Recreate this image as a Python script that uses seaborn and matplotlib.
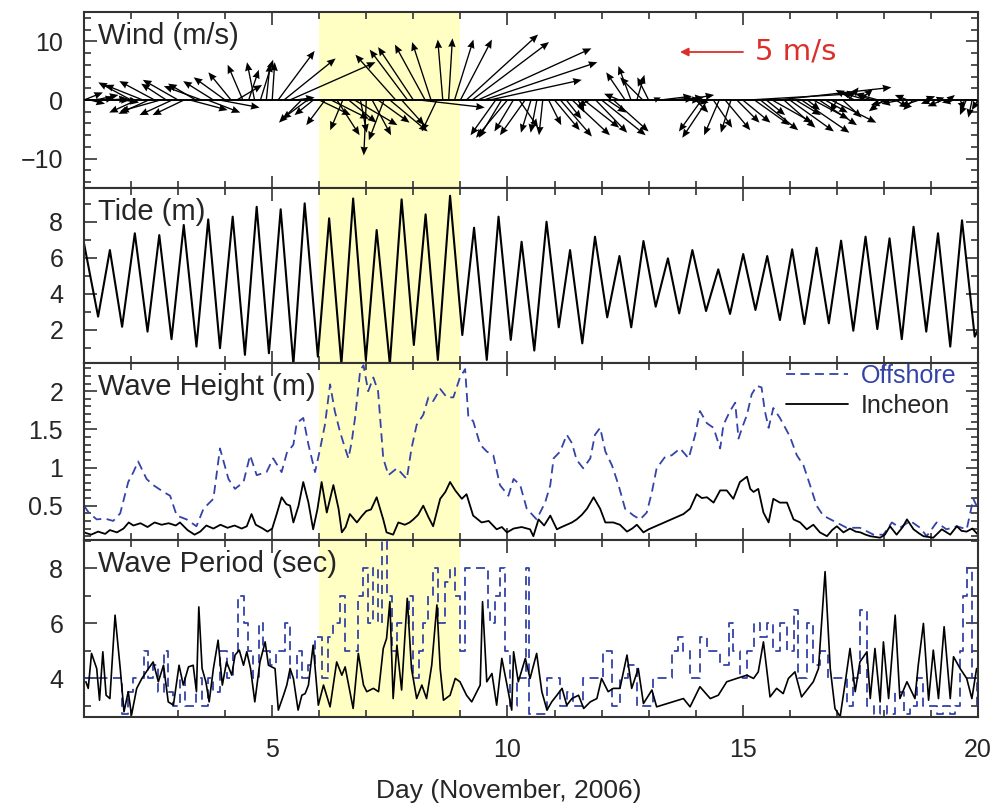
import numpy as np
import matplotlib
matplotlib.use("Agg")
import matplotlib.pyplot as plt
from matplotlib.ticker import MultipleLocator, FuncFormatter
import seaborn as sns

sns.set_style("ticks")
plt.rcParams["font.family"] = ["Liberation Sans", "DejaVu Sans"]

# ---- wind, 3-hourly vectors (m/s) ----
wind_day = np.arange(1.0, 20.001, 0.125)
wind_u = [1.5, 1.2, 1.8, 1.0, 1.6, 1.3, 1.5, 1.1,
          -2.6, -2.2, -3.0, -2.4, -2.8, -3.2, -2.0, -2.6,
          -2.8, -2.5, 3.0, -2.2, -3.0, 2.6, -2.4, 3.2,
          -2.5, -1.8, 2.0, -1.2, 0.8, -0.6, 1.0, 0.3,
          0.2, 2.9, 4.1, 6.8, 1.5, -1.8, -2.0, -1.5,
          2.5, -1.5, 3.0, 1.8, -1.0, 2.2, 3.4, 0.5,
          -0.2, 1.5, 2.5, -1.2, 3.0, -3.2, 1.8, -3.0,
          -2.8, 5.2, -2.4, -1.5, -1.2, -0.4, 0.3, 1.5,
          2.5, 5.7, 6.1, 9.0, 9.0, 7.3, -2.0, -1.8,
          -2.5, -1.5, 1.5, -2.0, -0.8, -0.5, -0.3, 1.0,
          2.0, 2.5, 1.2, 3.0, 0.5, 2.8, -1.0, 2.5,
          3.5, 1.5, 2.8, -1.2, -1.5, -1.0, 0.6, -1.8,
          -0.9, 0.5, 2.5, 2.2, 2.5, 1.8, 2.4, 1.5,
          1.0, -1.8, -2.0, 1.5, -1.2, 2.0, -0.8, 1.8,
          2.2, 8.5, 2.8, 3.0, 1.5, 3.2, 9.0, 2.5,
          3.5, 2.0, 3.8, 1.0, 2.8, 3.0, 1.8, 3.6,
          -0.5, 1.5, 0.8, -1.5, 1.0, -2.0, -1.2, -1.8,
          -1.2, -1.5, 1.0, -1.6, -1.0, -0.8, -1.5, 0.8,
          -0.8, 0.6, -1.2, 0.5, -1.0, 0.3, -0.5, -0.3,
          -0.5]
wind_v = [0.6, -0.3, 0.4, 0.2, 0.1, 0.0, -0.1, -0.2,
          1.4, -1.0, 1.2, -1.1, 1.5, -0.9, 1.3, -1.2,
          1.6, -1.2, -0.8, 1.3, 1.1, -1.0, 1.5, -0.6,
          1.8, 2.2, 1.2, 2.8, 2.4, 3.0, 3.2, 2.9,
          3.0, 3.9, 3.3, 3.0, 0.2, -1.8, -1.5, -1.2,
          -1.2, -2.0, -1.5, -2.8, -2.4, -1.8, -2.0, -2.6,
          -4.4, -2.8, -1.8, -3.2, -2.5, 3.6, -2.0, 4.0,
          4.2, -0.6, 4.4, 4.6, -2.5, 4.8, 4.9, 4.8,
          4.8, 5.2, 4.6, 4.1, 3.0, 1.6, -2.8, -3.0,
          -3.0, -2.5, -2.2, -2.8, -2.6, -2.6, -2.8, -2.0,
          -2.4, -2.9, -1.5, -2.8, -1.0, -2.2, -0.5, -2.6,
          -2.8, -1.0, -2.5, 0.5, 2.2, 2.7, 2.0, 1.8,
          1.8, 0.2, 0.3, 0.1, 0.2, 0.0, 0.4, -0.2,
          -1.0, -2.5, -3.0, -2.2, -2.8, -2.4, -2.6, -1.8,
          -1.8, 0.5, -2.0, -2.4, -1.2, -1.8, 1.0, -2.2,
          -2.5, -1.2, -2.6, -0.8, -1.5, -2.0, -1.0, -1.8,
          -1.0, -1.4, 1.0, 0.8, 0.9, 0.6, 0.4, 0.5,
          -0.9, -0.4, -0.6, -0.3, 0.4, -0.8, -0.5, 0.3,
          -0.3, 0.2, -0.5, 0.4, -0.2, -0.8, -1.2, -1.4,
          -0.8]

# ---- tide, highs and lows (m) ----
tide_day = [1.0, 1.30, 1.55, 1.81, 2.08, 2.35, 2.60, 2.86, 3.12, 3.39,
            3.64, 3.89, 4.16, 4.42, 4.67, 4.93, 5.18, 5.45, 5.69, 5.97,
            6.21, 6.47, 6.72, 6.99, 7.22, 7.50, 7.75, 8.01, 8.26, 8.52,
            8.78, 9.04, 9.29, 9.56, 9.81, 10.07, 10.30, 10.57, 10.83, 11.09,
            11.33, 11.59, 11.86, 12.12, 12.38, 12.63, 12.89, 13.15, 13.41, 13.65,
            13.93, 14.22, 14.48, 14.73, 15.01, 15.27, 15.52, 15.79, 16.05, 16.31,
            16.57, 16.83, 17.09, 17.35, 17.61, 17.86, 18.12, 18.38, 18.63, 18.90,
            19.15, 19.41, 19.66, 19.93, 20.0]
tide_m = [6.8, 2.74, 6.43, 2.18, 7.36, 1.91, 7.26, 1.49, 7.82, 1.08,
          8.13, 0.99, 8.28, 0.62, 8.83, 0.71, 8.69, 0.1, 9.02, 0.52,
          8.19, 0.1, 9.29, 0.34, 7.54, 0.1, 9.24, 1.17, 8.41, 0.34,
          9.44, 1.72, 7.67, 0.34, 8.28, 1.45, 6.89, 0.86, 8.0, 2.15,
          6.43, 1.26, 7.17, 2.70, 6.10, 2.15, 6.93, 3.29, 5.97, 2.92,
          6.43, 3.05, 5.36, 2.89, 6.21, 3.11, 6.10, 2.55, 6.47, 2.33,
          6.56, 2.37, 6.95, 1.96, 7.17, 2.05, 7.08, 1.49, 7.72, 1.91,
          7.36, 1.08, 8.08, 1.63, 2.0]

# ---- wave height (m) ----
hs_in_day = [1.0, 1.15, 1.3, 1.45, 1.55, 1.7, 1.84, 1.95, 2.05, 2.2,
             2.35, 2.5, 2.65, 2.8, 2.95, 3.04, 3.2, 3.35, 3.47, 3.6,
             3.75, 3.9, 4.05, 4.2, 4.35, 4.46, 4.56, 4.65, 4.8, 4.9,
             5.0, 5.1, 5.2, 5.3, 5.38, 5.45, 5.56, 5.66, 5.77, 5.87,
             5.96, 6.05, 6.16, 6.3, 6.41, 6.48, 6.56, 6.65, 6.8, 6.9,
             7.0, 7.1, 7.22, 7.36, 7.43, 7.57, 7.68, 7.82, 7.92, 8.0,
             8.1, 8.21, 8.32, 8.42, 8.57, 8.68, 8.78, 8.89, 9.03, 9.13,
             9.27, 9.45, 9.6, 9.77, 9.88, 9.99, 10.13, 10.3, 10.48, 10.55,
             10.66, 10.78, 10.91, 11.05, 11.15, 11.26, 11.37, 11.47, 11.58, 11.69,
             11.83, 11.97, 12.08, 12.25, 12.39, 12.54, 12.65, 12.75, 12.89, 13.0,
             13.74, 13.88, 14.02, 14.13, 14.24, 14.38, 14.52, 14.66, 14.8, 14.94,
             15.09, 15.16, 15.23, 15.33, 15.44, 15.55, 15.65, 15.79, 15.94, 16.08,
             16.22, 16.36, 16.5, 16.64, 16.79, 16.9, 17.0, 17.14, 17.28, 17.4,
             17.5, 17.61, 17.71, 17.92, 18.02, 18.13, 18.27, 18.4, 18.49, 18.63,
             18.74, 18.84, 19.05, 19.15, 19.23, 19.41, 19.55, 19.65, 19.76, 19.88,
             20.0]
hs_incheon = [0.15, 0.12, 0.16, 0.13, 0.18, 0.15, 0.2, 0.28, 0.24, 0.27,
              0.22, 0.28, 0.25, 0.27, 0.24, 0.28, 0.18, 0.12, 0.16, 0.24,
              0.2, 0.25, 0.21, 0.24, 0.2, 0.23, 0.39, 0.25, 0.2, 0.16,
              0.2, 0.4, 0.61, 0.52, 0.5, 0.28, 0.5, 0.81, 0.54, 0.19,
              0.45, 0.81, 0.41, 0.77, 0.46, 0.15, 0.22, 0.39, 0.28, 0.36,
              0.43, 0.45, 0.61, 0.32, 0.15, 0.12, 0.28, 0.25, 0.28, 0.32,
              0.38, 0.5, 0.35, 0.23, 0.59, 0.68, 0.81, 0.7, 0.59, 0.65,
              0.37, 0.28, 0.3, 0.19, 0.22, 0.15, 0.2, 0.22, 0.19, 0.1,
              0.32, 0.24, 0.37, 0.19, 0.22, 0.25, 0.28, 0.32, 0.38, 0.46,
              0.61, 0.46, 0.28, 0.28, 0.25, 0.16, 0.2, 0.25, 0.15, 0.19,
              0.39, 0.46, 0.65, 0.6, 0.61, 0.54, 0.7, 0.7, 0.59, 0.81,
              0.88, 0.72, 0.68, 0.72, 0.41, 0.28, 0.59, 0.54, 0.54, 0.32,
              0.28, 0.19, 0.25, 0.15, 0.1, 0.18, 0.23, 0.15, 0.2, 0.16,
              0.15, 0.12, 0.1, 0.08, 0.12, 0.23, 0.12, 0.22, 0.32, 0.19,
              0.14, 0.1, 0.08, 0.14, 0.19, 0.12, 0.23, 0.17, 0.16, 0.2,
              0.12]
hs_off_day = [1.0, 1.1, 1.27, 1.45, 1.62, 1.77, 1.94, 2.05, 2.15, 2.33,
              2.47, 2.69, 2.83, 2.97, 3.18, 3.39, 3.54, 3.75, 3.89, 4.07,
              4.21, 4.39, 4.53, 4.67, 4.88, 5.02, 5.2, 5.31, 5.45, 5.52,
              5.66, 5.77, 5.91, 6.02, 6.12, 6.23, 6.33, 6.44, 6.55, 6.62,
              6.69, 6.76, 6.87, 6.94, 7.04, 7.15, 7.25, 7.36, 7.47, 7.65,
              7.86, 7.96, 8.07, 8.21, 8.32, 8.42, 8.57, 8.71, 8.85, 8.99,
              9.1, 9.17, 9.27, 9.42, 9.56, 9.7, 9.84, 10.02, 10.13, 10.27,
              10.41, 10.62, 10.8, 10.91, 10.98, 11.12, 11.26, 11.37, 11.47, 11.61,
              11.76, 11.86, 11.97, 12.08, 12.22, 12.36, 12.5, 12.68, 12.82, 12.96,
              13.07, 13.17, 13.35, 13.49, 13.67, 13.85, 13.99, 14.09, 14.24, 14.38,
              14.52, 14.59, 14.73, 14.84, 14.91, 15.01, 15.09, 15.19, 15.3, 15.4,
              15.47, 15.55, 15.65, 15.79, 16.0, 16.15, 16.29, 16.43, 16.57, 16.71,
              16.93, 17.21, 17.49, 17.78, 17.99, 18.17, 18.34, 18.56, 18.77, 18.91,
              19.12, 19.33, 19.55, 19.76, 19.9, 20.0]
hs_offshore = [0.5, 0.41, 0.32, 0.33, 0.3, 0.4, 0.81, 0.94, 1.08, 0.85,
               0.77, 0.68, 0.63, 0.37, 0.32, 0.23, 0.46, 0.59, 1.25, 0.85,
               0.72, 0.81, 1.16, 0.9, 0.94, 1.12, 0.94, 1.19, 1.3, 1.58,
               1.65, 1.3, 0.94, 1.25, 1.56, 2.09, 1.74, 1.47, 1.25, 1.12,
               1.34, 1.65, 2.27, 2.34, 2.0, 2.18, 2.0, 1.12, 0.9, 0.99,
               0.85, 1.25, 1.56, 1.69, 1.92, 1.87, 2.03, 1.92, 1.92, 2.18,
               2.29, 1.65, 1.61, 1.3, 1.21, 1.16, 0.77, 0.63, 0.85, 0.77,
               0.46, 0.32, 0.54, 0.77, 1.12, 1.21, 1.43, 1.32, 1.1, 0.99,
               1.12, 1.43, 1.52, 1.21, 1.03, 0.77, 0.46, 0.37, 0.32, 0.41,
               0.68, 0.99, 1.14, 1.16, 1.25, 1.12, 1.43, 1.74, 1.58, 1.52,
               1.25, 1.56, 1.74, 1.85, 1.38, 1.56, 1.69, 1.96, 2.07, 2.05,
               1.74, 1.52, 1.78, 1.65, 1.41, 1.16, 1.03, 0.77, 0.5, 0.37,
               0.3, 0.21, 0.21, 0.12, 0.12, 0.28, 0.21, 0.3, 0.21, 0.1,
               0.28, 0.19, 0.23, 0.19, 0.59, 0.46]

# ---- wave period (sec) ----
tp_in_day = [1.04, 1.09, 1.16, 1.27, 1.33, 1.40, 1.47, 1.55, 1.66, 1.77,
             1.85, 1.94, 2.01, 2.12, 2.23, 2.37, 2.47, 2.58, 2.69, 2.79,
             2.90, 3.02, 3.11, 3.22, 3.32, 3.39, 3.44, 3.51, 3.59, 3.66,
             3.75, 3.85, 3.94, 4.03, 4.14, 4.21, 4.30, 4.39, 4.46, 4.54,
             4.63, 4.74, 4.85, 4.92, 4.99, 5.06, 5.13, 5.24, 5.31, 5.38,
             5.45, 5.55, 5.63, 5.70, 5.77, 5.87, 5.98, 6.09, 6.23, 6.37,
             6.48, 6.55, 6.65, 6.72, 6.83, 6.94, 7.01, 7.15, 7.26, 7.36,
             7.43, 7.50, 7.57, 7.65, 7.75, 7.87, 7.96, 8.07, 8.18, 8.28,
             8.39, 8.50, 8.57, 8.64, 8.78, 8.89, 8.99, 9.13, 9.24, 9.42,
             9.47, 9.56, 9.67, 9.77, 9.88, 9.99, 10.09, 10.13, 10.23, 10.38,
             10.48, 10.62, 10.73, 10.84, 10.94, 11.05, 11.16, 11.26, 11.37, 11.51,
             11.62, 11.76, 11.90, 12.0, 12.14, 12.25, 12.39, 12.54, 12.64, 12.78,
             12.89, 13.07, 13.17, 13.74, 13.88, 14.09, 14.31, 14.48, 14.66, 14.87,
             15.09, 15.23, 15.33, 15.44, 15.58, 15.72, 15.86, 15.97, 16.11, 16.25,
             16.39, 16.5, 16.61, 16.75, 16.86, 16.96, 17.07, 17.18, 17.28, 17.39,
             17.49, 17.64, 17.71, 17.81, 17.92, 17.99, 18.1, 18.24, 18.34, 18.49,
             18.66, 18.73, 18.84, 18.95, 19.05, 19.16, 19.28, 19.41, 19.48, 19.62,
             19.76, 19.87, 19.97]
tp_incheon = [3.88, 3.64, 4.91, 4.36, 3.21, 4.97, 3.39, 3.27, 6.3, 4.36,
              2.79, 3.52, 2.67, 3.64, 4.0, 4.36, 4.6, 3.88, 4.48, 3.15,
              3.03, 4.48, 3.76, 4.42, 4.48, 3.52, 6.6, 4.36, 3.88, 3.15,
              4.36, 5.39, 3.76, 4.6, 4.12, 4.85, 5.03, 4.48, 4.97, 4.36,
              3.15, 4.6, 5.33, 4.48, 4.42, 4.36, 2.85, 3.39, 3.76, 4.36,
              4.0, 2.85, 3.39, 3.45, 3.76, 5.21, 3.03, 3.76, 2.97, 4.6,
              4.12, 4.42, 3.52, 2.91, 4.91, 3.76, 3.52, 3.64, 3.52, 5.09,
              5.45, 6.79, 3.27, 5.21, 3.58, 6.91, 4.36, 3.27, 3.76, 3.27,
              4.48, 6.67, 4.36, 3.21, 3.39, 4.0, 3.88, 3.39, 3.15, 3.76,
              6.79, 3.88, 4.18, 3.03, 4.73, 3.76, 2.85, 4.97, 3.88, 4.73,
              4.0, 4.91, 3.52, 2.85, 3.15, 3.39, 3.64, 3.03, 3.27, 3.39,
              2.91, 3.15, 3.27, 4.0, 3.52, 3.64, 3.64, 4.85, 3.64, 4.36,
              3.09, 3.58, 2.97, 3.27, 2.97, 3.7, 3.27, 3.39, 3.88, 4.0,
              4.12, 4.0, 4.24, 5.33, 3.33, 3.64, 3.45, 4.0, 4.24, 3.33,
              3.64, 3.88, 4.36, 7.88, 4.36, 2.91, 2.61, 3.88, 5.09, 3.52,
              4.6, 4.97, 3.27, 5.09, 3.15, 5.33, 3.27, 6.3, 3.27, 3.88,
              3.27, 4.48, 6.0, 3.21, 5.03, 3.27, 5.88, 3.27, 4.79, 4.36,
              4.0, 3.27, 4.36]
tp_off_day = [1.0, 1.55, 1.62, 1.8, 1.94, 2.05, 2.19, 2.28, 2.37, 2.47,
              2.58, 2.69, 2.79, 2.9, 3.04, 3.15, 3.29, 3.39, 3.5, 3.64,
              3.75, 3.89, 4.03, 4.17, 4.28, 4.39, 4.49, 4.6, 4.71, 4.81,
              4.95, 5.09, 5.27, 5.38, 5.52, 5.63, 5.77, 5.91, 6.05, 6.19,
              6.3, 6.44, 6.55, 6.65, 6.83, 6.94, 7.04, 7.15, 7.25, 7.34,
              7.43, 7.54, 7.65, 7.79, 7.9, 8.0, 8.11, 8.21, 8.32, 8.42,
              8.53, 8.67, 8.78, 8.89, 8.99, 9.1, 9.27, 9.42, 9.59, 9.63,
              9.74, 9.84, 9.95, 10.06, 10.2, 10.39, 10.45, 10.66, 10.84, 10.98,
              11.12, 11.26, 11.4, 11.61, 11.83, 12.04, 12.22, 12.39, 12.57, 12.75,
              12.96, 13.09, 13.35, 13.49, 13.63, 13.74, 13.88, 13.99, 14.09, 14.24,
              14.38, 14.52, 14.7, 14.8, 14.94, 15.09, 15.23, 15.37, 15.51, 15.65,
              15.79, 15.94, 16.08, 16.18, 16.36, 16.5, 16.64, 16.82, 17.07, 17.21,
              17.35, 17.49, 17.64, 17.78, 17.92, 18.06, 18.24, 18.42, 18.56, 18.7,
              18.84, 18.98, 19.12, 19.26, 19.41, 19.51, 19.62, 19.69, 19.76, 19.87,
              19.97]
tp_offshore = [4.0, 4.0, 4.0, 2.7, 3.5, 4.0, 4.0, 5.0, 4.0, 4.5,
               3.5, 5.0, 3.5, 3.0, 4.0, 3.0, 3.0, 4.0, 3.0, 4.0,
               3.5, 5.0, 4.0, 5.0, 7.0, 6.0, 5.0, 4.0, 6.0, 5.0,
               4.5, 5.0, 6.0, 4.0, 5.0, 4.0, 4.5, 5.5, 4.0, 5.5,
               6.0, 7.0, 5.0, 5.0, 7.0, 8.0, 6.0, 8.0, 6.0, 9.0,
               7.0, 5.0, 6.0, 6.0, 7.0, 4.0, 5.0, 6.0, 7.0, 8.0,
               6.0, 7.5, 8.0, 7.0, 5.0, 8.0, 8.0, 8.0, 6.5, 6.0,
               7.0, 8.0, 5.0, 3.0, 4.0, 8.0, 2.7, 2.7, 4.0, 4.0,
               3.0, 3.5, 3.0, 4.0, 4.0, 5.0, 3.0, 4.0, 4.5, 3.0,
               3.0, 4.0, 4.0, 5.0, 5.5, 5.0, 4.0, 4.0, 5.5, 5.0,
               5.0, 4.5, 6.0, 5.0, 4.0, 5.0, 6.0, 5.5, 6.0, 5.0,
               6.0, 5.0, 6.5, 4.0, 6.0, 4.5, 5.0, 4.0, 4.0, 3.0,
               4.0, 6.5, 3.0, 2.7, 3.0, 2.7, 3.5, 2.7, 3.0, 4.0,
               3.0, 3.0, 2.7, 3.0, 2.7, 3.0, 5.0, 7.0, 8.0, 4.0,
               3.0]

BLUE = "#3443a8"
RED = "#dc2f2a"
SHADE = "#ffffc4"
DASH = (0, (5, 3))

fig = plt.figure(figsize=(9.96, 8.08), dpi=100)
L, W = 84 / 996, 894 / 996
boxes = [(188, 176), (363, 175), (540, 177), (717, 177)]   # bottom px, height px
axes = [fig.add_axes([L, 1 - b / 808, W, h / 808]) for b, h in boxes]

fmt = FuncFormatter(lambda v, p: f"{v:g}".replace("-", "\u2212"))
ylims = [(-15, 15), (0.17, 9.87), (0.05, 2.37), (2.6, 9.03)]
ymaj = [10, 2, 0.5, 2]
ymin = [2, 1, 0.1, 1]
titles = ["Wind (m/s)", "Tide (m)", "Wave Height (m)", "Wave Period (sec)"]

for i, ax in enumerate(axes):
    ax.set_xlim(1, 20)
    ax.set_ylim(*ylims[i])
    ax.axvspan(6, 9, color=SHADE, lw=0, zorder=0)
    ax.xaxis.set_major_locator(MultipleLocator(5))
    ax.xaxis.set_minor_locator(MultipleLocator(1))
    ax.yaxis.set_major_locator(MultipleLocator(ymaj[i]))
    ax.yaxis.set_minor_locator(MultipleLocator(ymin[i]))
    ax.yaxis.set_major_formatter(fmt)
    ax.tick_params(which="both", direction="in", top=True, right=True,
                   width=1.2, color="#333333")
    ax.tick_params(which="major", length=9, labelsize=18, pad=15)
    ax.tick_params(which="minor", length=5)
    for s in ax.spines.values():
        s.set_linewidth(1.5)
        s.set_color("#333333")
    if i < 3:
        ax.tick_params(labelbottom=False)
    ax.text(0.016, 0.945, titles[i], transform=ax.transAxes, fontsize=21,
            va="top", ha="left", zorder=5)

# wind sticks
ax = axes[0]
ax.axhline(0, color="k", lw=1.4, zorder=2)
ax.quiver(wind_day, np.zeros(len(wind_day)), wind_u, wind_v, angles="uv",
          scale_units="inches", scale=7.94, width=0.0015, headwidth=5.5,
          headlength=6.5, headaxislength=6, color="k", zorder=3)
# 5 m/s reference arrow (63 px at this scale)
ax.annotate("", xy=(680, 756), xytext=(743, 756), xycoords="figure pixels",
            textcoords="figure pixels",
            arrowprops=dict(arrowstyle="-|>", color=RED, lw=1.3,
                            mutation_scale=12, shrinkA=0, shrinkB=0))
fig.text(755 / 996, 756 / 808, "5 m/s", color=RED, fontsize=21,
         family="DejaVu Sans", va="center", ha="left")

# tide
sns.lineplot(x=tide_day, y=tide_m, ax=axes[1], color="k", lw=1.5,
             estimator=None, sort=False)

# wave height
ax = axes[2]
sns.lineplot(x=hs_off_day, y=hs_offshore, ax=ax, color=BLUE, lw=1.3,
             linestyle=DASH, estimator=None, sort=False, label="Offshore")
sns.lineplot(x=hs_in_day, y=hs_incheon, ax=ax, color="k", lw=1.3,
             estimator=None, sort=False, label="Incheon")
leg = ax.legend(loc="upper right", bbox_to_anchor=(0.976, 0.995), frameon=False,
                fontsize=18, handlelength=2.5, handletextpad=0.5,
                labelspacing=0.25, borderpad=0, borderaxespad=0)
leg.get_texts()[0].set_color(BLUE)

# wave period
ax = axes[3]
sns.lineplot(x=tp_off_day, y=tp_offshore, ax=ax, color=BLUE, lw=1.3,
             linestyle=DASH, drawstyle="steps-post", estimator=None, sort=False)
sns.lineplot(x=tp_in_day, y=tp_incheon, ax=ax, color="k", lw=1.2,
             estimator=None, sort=False)

for ax in axes:
    ax.set_xlabel("")
    ax.set_ylabel("")

fig.text(509 / 996, 1 - 791 / 808, "Day (November, 2006)", fontsize=19,
         ha="center", va="center")

fig.savefig("out.png", dpi=100)
